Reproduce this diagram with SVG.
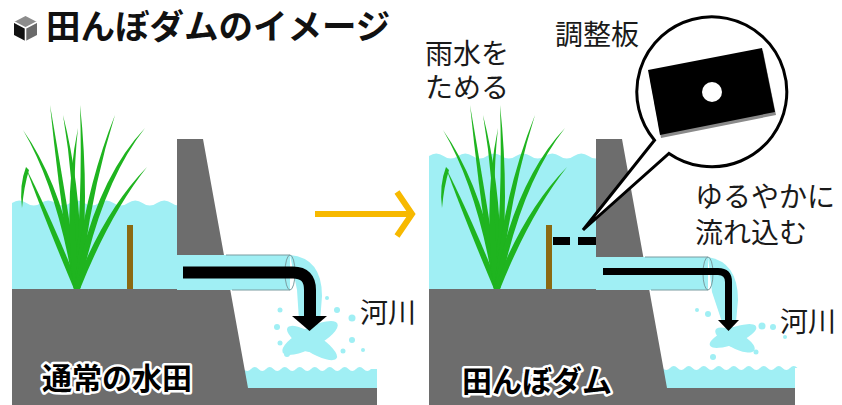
<svg xmlns="http://www.w3.org/2000/svg" xmlns:xlink="http://www.w3.org/1999/xlink" width="842" height="405" viewBox="0 0 842 405">
  <style>
    .water { fill: #a0eff4; }
    .ground { fill: #6d6d6d; }
    .leaf { fill: #1fb41f; }
    .stick { fill: #8b6a12; }
    .pipe-edge { stroke: #7a9ca0; stroke-width: 1; fill: none; }
    .flow { fill: none; stroke: #000; stroke-linecap: butt; }
    .lbl { font-family: "Noto Sans CJK JP", "Noto Sans", sans-serif; font-size: 28px; fill: #1a1a1a; }
    .panel-title { font-family: "Noto Sans CJK JP", "Noto Sans", sans-serif; font-size: 30px; font-weight: bold; fill: #000; stroke: #fff; stroke-width: 5; paint-order: stroke; stroke-linejoin: round; }
    .title { font-family: "Noto Sans CJK JP", "Noto Sans", sans-serif; font-size: 34.5px; font-weight: bold; fill: #111; }
  </style>
  <defs>
    <!-- rice plant, base at (77,289) -->
    <g id="rice">
      <path class="leaf" d="M74,289 Q43,215 26,168 Q50,215 80,289 Z"/>
      <path class="leaf" d="M26,167 Q19,185 22,208 Q24,186 29,170 Z"/>
      <path class="leaf" d="M74,289 Q58,190 23,130 Q65,190 80,289 Z"/>
      <path class="leaf" d="M74,289 Q60,203 50,105 Q67,203 80,289 Z"/>
      <path class="leaf" d="M74,289 Q77,198 63,115 Q84,198 80,289 Z"/>
      <path class="leaf" d="M74,289 Q83,197 80,105 Q90,197 80,289 Z"/>
      <path class="leaf" d="M74,289 Q63,200 78,128 Q70,200 80,289 Z"/>
      <path class="leaf" d="M74,289 Q83,195 115,115 Q90,195 80,289 Z"/>
      <path class="leaf" d="M74,289 Q94,182 145,128 Q101,184 80,289 Z"/>
      <path class="leaf" d="M74,289 Q103,212 147,167 Q110,214 80,289 Z"/>
    </g>
  </defs>

  <!-- ===== left panel: ordinary paddy ===== -->
  <g id="paddy-normal">
    <path class="water" d="M12,203 q7.25,-5 14.5,0 t14.5,0 t14.5,0 t14.5,0 t14.5,0 t14.5,0 t14.5,0 t14.5,0 t14.5,0 t14.5,0 t14.5,0 t14.5,0 L186,289 L12,289 Z"/>
    <use xlink:href="#rice"/>
    <rect class="stick" x="127" y="225" width="6" height="64"/>
    <path class="water" d="M236,369 q3.75,-4 7.5,0 t7.5,0 t7.5,0 t7.5,0 t7.5,0 t7.5,0 t7.5,0 t7.5,0 t7.5,0 t7.5,0 t7.5,0 t7.5,0 t7.5,0 t7.5,0 t7.5,0 t7.5,0 t7.5,0 t7.5,0 L377,369 L377,389 L236,389 Z"/>
    <path class="ground" d="M177,139 L203,139 L248,388 L377,388 L377,405 L12,405 L12,289 L177,289 Z"/>
    <!-- drain pipe -->
    <rect class="water" x="177" y="255" width="113" height="35"/>
    <path class="pipe-edge" d="M226,255 H290 M232,290 H290"/>
    <path class="water" d="M290,255 Q322,258 322,296 L320,322 L299,320 L297,290 Z"/>
    <ellipse class="pipe-edge" cx="290" cy="272.5" rx="5" ry="17.5"/>
    <!-- splash -->
    <g class="water">
      <ellipse cx="310" cy="338" rx="31" ry="10" transform="rotate(-28 310 338)"/>
      <ellipse cx="312" cy="343" rx="29" ry="9" transform="rotate(32 312 343)"/>
      <circle cx="310" cy="340" r="12"/>
      <circle cx="280" cy="310" r="2.5"/>
      <circle cx="277" cy="327" r="3"/>
      <circle cx="327" cy="298" r="2"/>
      <circle cx="337" cy="310" r="3"/>
      <circle cx="352" cy="318" r="3.5"/>
      <circle cx="352" cy="340" r="3"/>
      <circle cx="343" cy="351" r="2.5"/>
      <circle cx="287" cy="354" r="3"/>
      <circle cx="280" cy="343" r="2.5"/>
      <circle cx="363" cy="350" r="2"/>
    </g>
    <text class="lbl" x="360" y="323">河川</text>
    <text class="panel-title" x="42" y="389">通常の水田</text>
  </g>

  <!-- ===== right panel: paddy dam ===== -->
  <g id="paddy-dam">
    <path class="water" d="M429,156 q7.25,-5 14.5,0 t14.5,0 t14.5,0 t14.5,0 t14.5,0 t14.5,0 t14.5,0 t14.5,0 t14.5,0 t14.5,0 t14.5,0 t14.5,0 L603,289 L429,289 Z"/>
    <use xlink:href="#rice" transform="translate(420,0)"/>
    <rect class="stick" x="546" y="225" width="6" height="64"/>
    <path class="water" d="M655,368 q3.75,-4 7.5,0 t7.5,0 t7.5,0 t7.5,0 t7.5,0 t7.5,0 t7.5,0 t7.5,0 t7.5,0 t7.5,0 t7.5,0 t7.5,0 t7.5,0 t7.5,0 t7.5,0 t7.5,0 t7.5,0 t7.5,0 t7.5,0 L795,368 L795,388 L655,388 Z"/>
    <path class="ground" d="M596,139 L622,139 L667,388 L795,388 L795,405 L429,405 L429,289 L596,289 Z"/>
    <!-- drain pipe -->
    <rect class="water" x="596" y="257" width="112" height="33"/>
    <path class="pipe-edge" d="M645,257 H708 M651,290 H708"/>
    <path class="water" d="M708,257 Q738,262 738,300 L736,322 L722,322 L712,292 Z"/>
    <ellipse class="pipe-edge" cx="708" cy="273.5" rx="5" ry="16.5"/>
    <!-- splash -->
    <g class="water">
      <ellipse cx="733" cy="336" rx="25" ry="8" transform="rotate(-22 733 336)"/>
      <ellipse cx="735" cy="340" rx="22" ry="8" transform="rotate(28 735 340)"/>
      <circle cx="733" cy="337" r="10"/>
      <circle cx="697" cy="310" r="2"/>
      <circle cx="708" cy="314" r="3"/>
      <circle cx="762" cy="326" r="3.5"/>
      <circle cx="773" cy="327" r="3"/>
      <circle cx="713" cy="357" r="3"/>
      <circle cx="785" cy="337" r="2"/>
      <circle cx="756" cy="352" r="2.5"/>
    </g>
    <!-- adjustment plate on the outlet -->
    <rect x="553" y="237" width="17" height="8" fill="#000"/>
    <rect x="578" y="237" width="18" height="8" fill="#000"/>
    <text class="lbl" x="780" y="332">河川</text>
    <text class="lbl" x="695" y="207">ゆるやかに<tspan x="695" y="243">流れ込む</tspan></text>
    <text class="lbl" x="425" y="64">雨水を<tspan x="425" y="98">ためる</tspan></text>
    <text class="panel-title" x="462" y="392">田んぼダム</text>
  </g>

  <!-- zoom balloon showing the adjustment plate -->
  <g id="plate-callout">
    <path d="M669,153.4 A75,75 0 1 0 654.5,140.2 L583,230 Z" fill="#fff" stroke="#000" stroke-width="3" stroke-linejoin="miter"/>
    <polygon points="648,70 762,48 775,112 660,135" fill="#8a8a8a" transform="translate(1,3)"/>
    <polygon points="648,70 762,48 775,112 660,135" fill="#000"/>
    <circle cx="712" cy="92" r="10" fill="#fff"/>
    <text class="lbl" x="555" y="45">調整板</text>
  </g>

  <!-- connectors: flow arrows and panel transition -->
  <g id="connectors">
    <path class="flow" stroke-width="12" d="M183,272.5 H293 Q310,272.5 310,290 V317"/>
    <polygon points="292,316 327,316 309.5,331" fill="#000"/>
    <path class="flow" stroke-width="7" d="M603,271.5 H718 Q728.5,271.5 728.5,282 V321"/>
    <polygon points="718,320 739,320 728.5,331" fill="#000"/>
    <g fill="none" stroke="#f7b900" stroke-width="6">
      <line x1="315" y1="214" x2="410" y2="214"/>
      <polyline points="397,192 412,214 397,236"/>
    </g>
  </g>

  <!-- heading -->
  <g id="heading">
    <polygon points="25.5,16 37,22 25.5,28 14,22" fill="#8c8c8c"/>
    <polygon points="14,22 25.5,28 25.5,41 14,35" fill="#111"/>
    <polygon points="25.5,28 37,22 37,35 25.5,41" fill="#6a6a6a"/>
    <path d="M14,22 L25.5,28 L37,22 M25.5,28 V41" stroke="#fff" stroke-width="1.6" fill="none"/>
    <text class="title" x="46" y="39">田んぼダムのイメージ</text>
  </g>
</svg>
